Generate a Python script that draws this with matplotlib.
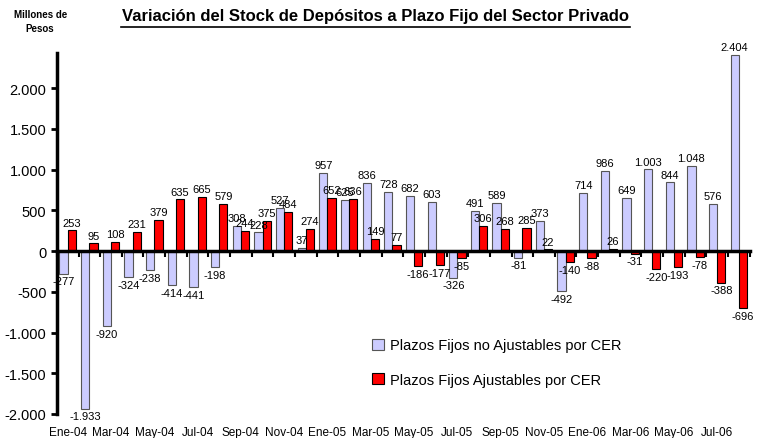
import matplotlib
matplotlib.use("Agg")
import matplotlib.pyplot as plt
import numpy as np

months = ["Ene-04","Feb-04","Mar-04","Abr-04","May-04","Jun-04","Jul-04","Ago-04","Sep-04","Oct-04","Nov-04","Dic-04",
          "Ene-05","Feb-05","Mar-05","Abr-05","May-05","Jun-05","Jul-05","Ago-05","Sep-05","Oct-05","Nov-05","Dic-05",
          "Ene-06","Feb-06","Mar-06","Abr-06","May-06","Jun-06","Jul-06","Ago-06"]
no_ajustables = [-277, -1933, -920, -324, -238, -414, -441, -198, 308, 228, 527, 37,
                 957, 625, 836, 728, 682, 603, -326, 491, 589, -81, 373, -492,
                 714, 986, 649, 1003, 844, 1048, 576, 2404]
ajustables = [253, 95, 108, 231, 379, 635, 665, 579, 244, 375, 484, 274,
              652, 636, 149, 77, -186, -177, -85, 306, 268, 285, 22, -140,
              -88, 26, -31, -220, -193, -78, -388, -696]
yticks = [-2000, -1500, -1000, -500, 0, 500, 1000, 1500, 2000]

plt.rcParams['font.family'] = ['Liberation Sans', 'DejaVu Sans']

def fmt(v):
    s = f"{abs(v):,}".replace(",", ".")
    return ("-" if v < 0 else "") + s

fig = plt.figure(figsize=(7.58, 4.39), dpi=100)
ax = fig.add_axes([0.075, 0.0547, 0.914, 0.822])

x = np.arange(len(months))
w = 0.38
b1 = ax.bar(x - 0.19, no_ajustables, w, color="#CCCCFF", edgecolor="#555555", linewidth=0.8,
            label="Plazos Fijos no Ajustables por CER")
b2 = ax.bar(x + 0.19, ajustables, w, color="#FF0000", edgecolor="#000000", linewidth=0.8,
            label="Plazos Fijos Ajustables por CER")
ax.bar_label(b1, labels=[fmt(v) for v in no_ajustables], padding=2, fontsize=8)
ax.bar_label(b2, labels=[fmt(v) for v in ajustables], padding=2, fontsize=8)

ax.set_xlim(-0.5, len(months) - 0.5)
ax.set_ylim(-2000, 2430)
ax.set_yticks(yticks)
ax.set_yticklabels([fmt(v) for v in yticks], fontsize=10.5)
ax.tick_params(axis='y', direction='out', length=4, width=2)

for s in ['top', 'right']:
    ax.spines[s].set_visible(False)
ax.spines['left'].set_linewidth(2.5)
ax.spines['bottom'].set_position(('data', 0))
ax.spines['bottom'].set_linewidth(2.5)
ax.set_xticks(np.arange(len(months) + 1) - 0.5)
ax.set_xticklabels([])
ax.tick_params(axis='x', direction='out', length=4, width=1.5)

sec = ax.secondary_xaxis(location=0)
sec.spines['bottom'].set_visible(False)
sec.set_xticks(x[::2])
sec.set_xticklabels(months[::2], fontsize=8.5)
sec.tick_params(axis='x', length=0, pad=9)

fig.text(0.053, 0.95, "Millones de\nPesos", ha='center', va='center', fontsize=7, fontweight='bold', linespacing=1.4)
fig.text(0.495, 0.962, "Variación del Stock de Depósitos a Plazo Fijo del Sector Privado", ha='center', va='center',
         fontsize=12, fontweight='bold')
fig.add_artist(plt.Line2D([0.159, 0.831], [0.936, 0.936], color='black', linewidth=1.2))

fig.legend(handles=[b1, b2], loc='upper left', bbox_to_anchor=(0.474, 0.257), bbox_transform=fig.transFigure,
           frameon=False, fontsize=10.5, handlelength=0.8, handleheight=0.8, labelspacing=1.4, handletextpad=0.4)
fig.savefig("out.png", dpi=100)
